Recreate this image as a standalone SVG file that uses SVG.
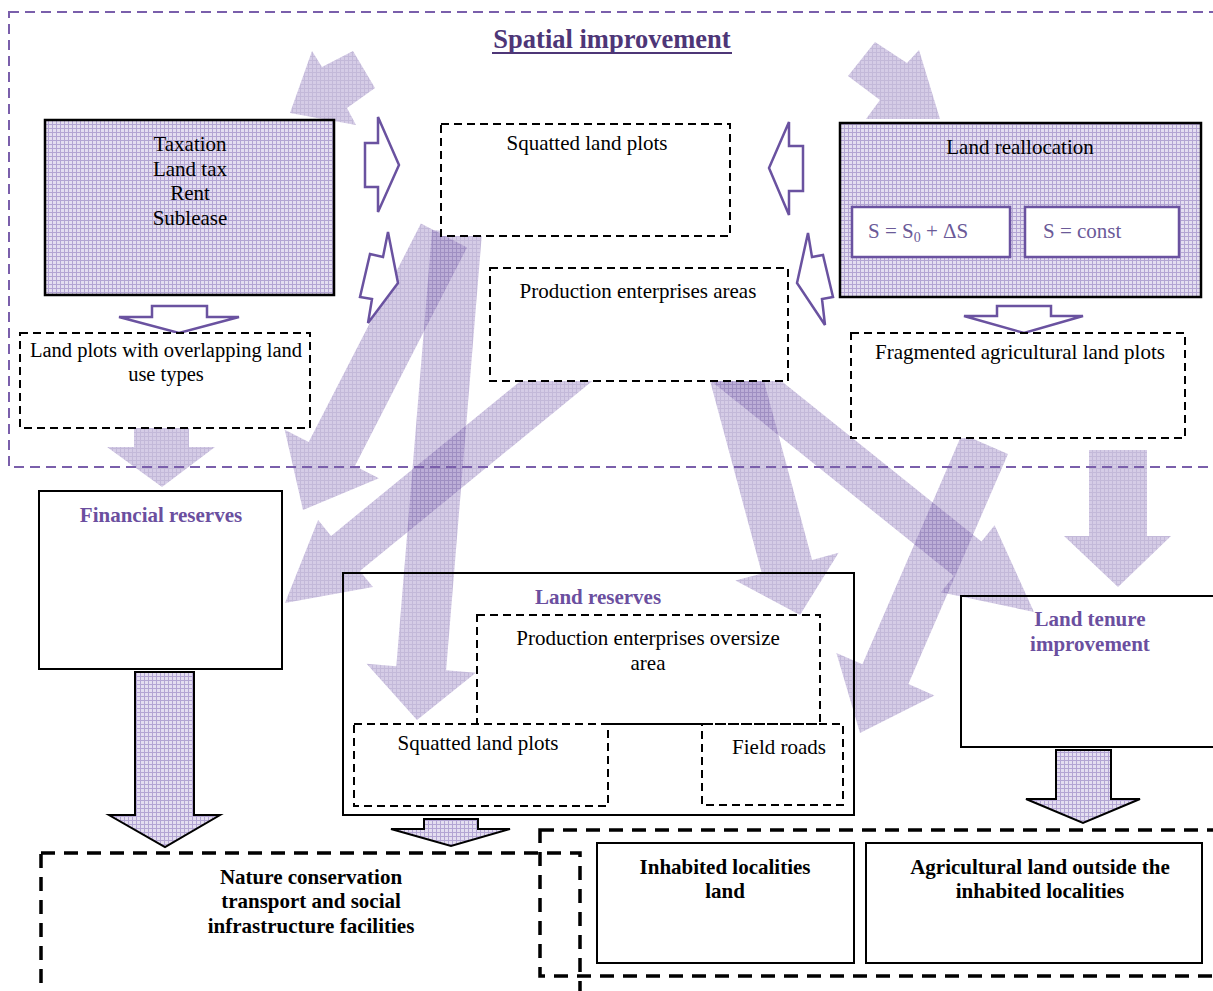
<svg xmlns="http://www.w3.org/2000/svg" width="1213" height="991" viewBox="0 0 1213 991">
<defs>
<pattern id="pA" width="4" height="4" patternUnits="userSpaceOnUse"><rect width="4" height="4" fill="#9680c0"/><rect width="4" height="1" fill="#6a50a0"/><rect width="1" height="4" fill="#6a50a0"/></pattern>
<pattern id="pB" width="4" height="4" patternUnits="userSpaceOnUse"><rect width="4" height="4" fill="#e4def0"/><rect width="4" height="1" fill="#b3a5d3"/><rect width="1" height="4" fill="#b3a5d3"/></pattern>
</defs>
<style>
text{font-family:"Liberation Serif","Times New Roman",serif;font-size:21px;fill:#000}
.b{font-weight:bold}
.pt{fill:#6b4f9f;font-weight:bold}
.m{text-anchor:middle}
.fa{fill:url(#pA);fill-opacity:0.4;stroke:none}
.fb{fill:url(#pB);stroke:#000;stroke-width:2}
.oa{fill:#fff;stroke:#6a52a0;stroke-width:2.5;stroke-linejoin:miter}
.solid{fill:none;stroke:#000;stroke-width:2}
.dash{fill:#fff;stroke:#000;stroke-width:2;stroke-dasharray:8 5}
.dashn{fill:none;stroke:#000;stroke-width:2;stroke-dasharray:8 5}
.dbig{fill:none;stroke:#000;stroke-width:3.5;stroke-dasharray:14 9}
</style>
<rect width="1213" height="991" fill="#fff"/>

<g id="connectors">
<polygon class="fa" points="290,113 312,51 322,67 353,51 375,88 347,108 356,125"/>
<polygon class="fa" points="875,42 907,63 919,50 940,119 866,119 880,100 848,76"/>
<polygon class="fa" points="420.9,223.6 467.1,247.4 354.9,465.9 378.9,478.2 303,510 284.7,429.8 308.7,442.1"/>
<polygon class="fa" points="432.1,230 481.9,234 446.1,670.2 475.8,672.7 417,720 366.6,663.7 396.3,666.2"/>
<polygon class="fa" points="578.8,333.3 607.6,368.5 359.9,571.1 372.9,587 285,603 318.1,520 331.1,535.9"/>
<polygon class="fa" points="704.7,361 754.9,347.4 812.1,559.9 838.6,552.8 800,615 735.4,580.6 761.9,573.5"/>
<polygon class="fa" points="724.1,335 981.5,541.6 994.6,525.3 1034,612 940.8,592.3 953.9,576 696.5,369.4"/>
<polygon class="fa" points="962,434.1 1008,453.9 908.4,684.1 934.4,695.4 860,733 836.4,653 862.4,664.3"/>
<polygon class="fa" points="134,425 189,425 189,447 215,447 162,487 107,447 134,447"/>
<polygon class="fa" points="1089,450 1147,450 1147,536 1171,536 1118,587 1064,536 1089,536"/>
<polygon class="fb" points="135,672 194,672 194,815 220,815 165,847 109,815 135,815"/>
<polygon class="fb" points="424,819 478,819 478,829 510,829 451,846 391,829 424,829"/>
<polygon class="fb" points="1056,750 1111,750 1111,799 1140,799 1083,823 1026,799 1056,799"/>
<polygon class="oa" points="365,143 378,143 378,117 399,165 378,212 378,187 365,187"/>
<polygon class="oa" points="388,232 398,283 368,323 372,299 360,297 370,254 383,257"/>
<polygon class="oa" points="803,146 789,146 789,122 769,168 789,215 789,191 803,191"/>
<polygon class="oa" points="808,233 797,283 825,325 822,299 833,297 823,255 812,257"/>
<polygon class="oa" points="152,306 207,306 207,317 239,317 179,333 119,317 152,317"/>
<polygon class="oa" points="997,306 1051,306 1051,316 1083,316 1024,333 964,316 997,316"/>
</g>

<g id="frame-spatial">
<rect x="9" y="12" width="1220" height="455" fill="none" stroke="#7a5fab" stroke-width="2" stroke-dasharray="10 6"/>
<text class="m b" x="612" y="48" style="fill:#4e3677;font-size:26.5px">Spatial improvement</text>
<line x1="492" y1="53" x2="732" y2="53" stroke="#4e3677" stroke-width="2"/>
</g>

<g id="taxation">
<rect x="45" y="120" width="289" height="175" fill="url(#pB)" stroke="#000" stroke-width="2.5"/>
<text class="m" x="190" y="151">Taxation</text>
<text class="m" x="190" y="176">Land tax</text>
<text class="m" x="190" y="200">Rent</text>
<text class="m" x="190" y="225">Sublease</text>
</g>

<g id="squatted-top">
<rect class="dash" x="441" y="124" width="289" height="112"/>
<text class="m" x="587" y="150">Squatted land plots</text>
</g>

<g id="production-areas">
<rect class="dash" x="490" y="268" width="298" height="113"/>
<text class="m" x="638" y="298">Production enterprises areas</text>
</g>

<g id="land-reallocation">
<rect x="840" y="123" width="361" height="174" fill="url(#pB)" stroke="#000" stroke-width="2.5"/>
<text class="m" x="1020" y="154">Land reallocation</text>
<rect x="852" y="207" width="158" height="50" fill="#fff" stroke="#6a52a0" stroke-width="2.5"/>
<rect x="1025" y="207" width="154" height="50" fill="#fff" stroke="#6a52a0" stroke-width="2.5"/>
<text x="868" y="238" style="fill:#6b5a98">S = S<tspan font-size="14" dy="4">0</tspan><tspan dy="-4"> + ΔS</tspan></text>
<text x="1043" y="238" style="fill:#6b5a98">S = const</text>
</g>

<g id="overlapping-plots">
<rect class="dash" x="20" y="333" width="290" height="95"/>
<text class="m" x="166" y="357" style="font-size:20.5px">Land plots with overlapping land</text>
<text class="m" x="166" y="381" style="font-size:20.5px">use types</text>
</g>

<g id="fragmented">
<rect class="dash" x="851" y="333" width="334" height="105"/>
<text class="m" x="1020" y="359">Fragmented agricultural land plots</text>
</g>

<g id="financial-reserves">
<rect class="solid" x="39" y="491" width="243" height="178"/>
<text class="pt m" x="161" y="522">Financial reserves</text>
</g>

<g id="land-reserves">
<rect class="solid" x="343" y="573" width="511" height="242"/>
<text class="pt m" x="598" y="604">Land reserves</text>
</g>

<g id="oversize-area">
<rect class="dashn" x="477" y="615" width="343" height="109"/>
<text class="m" x="648" y="645">Production enterprises oversize</text>
<text class="m" x="648" y="670">area</text>
</g>

<g id="squatted-bottom">
<rect class="dashn" x="354" y="724" width="254" height="82"/>
<line x1="608" y1="724" x2="702" y2="724" stroke="#000" stroke-width="2" stroke-dasharray="8 5"/>
<text class="m" x="478" y="750">Squatted land plots</text>
</g>

<g id="field-roads">
<rect class="dashn" x="702" y="724" width="141" height="81"/>
<text class="m" x="779" y="754">Field roads</text>
</g>

<g id="land-tenure">
<rect class="solid" x="961" y="596" width="270" height="151"/>
<text class="pt m" x="1090" y="626">Land tenure</text>
<text class="pt m" x="1090" y="651">improvement</text>
</g>

<g id="nature-conservation">
<rect class="dbig" x="41" y="853" width="539" height="170"/>
<text class="b m" x="311" y="884">Nature conservation</text>
<text class="b m" x="311" y="908">transport and social</text>
<text class="b m" x="311" y="933">infrastructure facilities</text>
</g>

<g id="land-categories">
<rect class="dbig" x="540" y="830" width="700" height="146"/>
</g>

<g id="inhabited">
<rect class="solid" x="597" y="843" width="257" height="120"/>
<text class="b m" x="725" y="874">Inhabited localities</text>
<text class="b m" x="725" y="898">land</text>
</g>

<g id="agricultural-outside">
<rect class="solid" x="866" y="843" width="336" height="120"/>
<text class="b m" x="1040" y="874">Agricultural land outside the</text>
<text class="b m" x="1040" y="898">inhabited localities</text>
</g>
</svg>
